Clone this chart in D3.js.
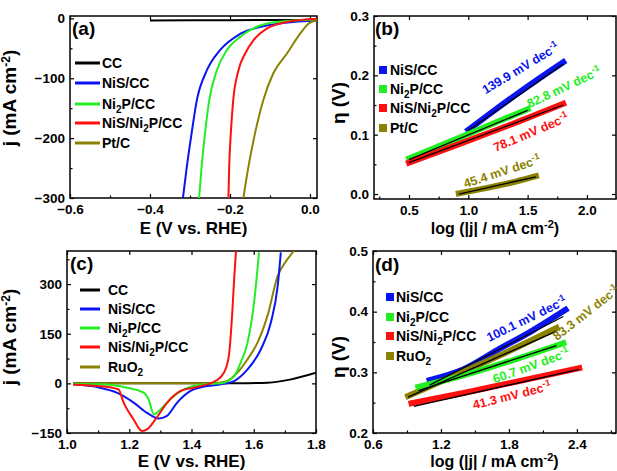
<!DOCTYPE html>
<html>
<head>
<meta charset="utf-8">
<script src="https://cdn.jsdelivr.net/npm/d3@7"></script>
<style>
  body { margin: 0; background: #fff; }
  svg text { font-family: "Liberation Sans", Arial, sans-serif; font-weight: bold; fill: #000; }
</style>
</head>
<body>
<svg id="fig" width="617" height="471"></svg>
<script>
// ---- (a) HER polarization curves: [E (V vs RHE), j (mA cm-2)]
var herCC   = [[-0.40,-3.5],[-0.2,-3],[0.0,-2.5],[0.02,-2.3]];
var herNiS  = [[-0.318,-302],[-0.308,-248],[-0.296,-192],[-0.283,-137],[-0.258,-87],[-0.225,-53],[-0.175,-26],[-0.108,-12],[-0.042,-6],[0.017,-4]];
var herNi2P = [[-0.2775,-302],[-0.271,-248],[-0.2625,-192],[-0.252,-137],[-0.233,-87],[-0.208,-53],[-0.175,-31],[-0.133,-14],[-0.083,-6],[0.017,-2]];
var herHet  = [[-0.204,-302],[-0.202,-248],[-0.198,-192],[-0.192,-137],[-0.179,-87],[-0.1625,-59],[-0.142,-37],[-0.108,-17],[-0.058,-6],[0.017,-0.5]];
var herPt   = [[-0.167,-302],[-0.154,-248],[-0.1375,-192],[-0.117,-137],[-0.092,-92],[-0.058,-59],[-0.025,-26],[-0.004,-9],[0.017,-3]];

// ---- (b) HER Tafel plots: [log|j|, eta (V)]
var tafHNiS  = [[1.0,0.108],[1.2,0.138],[1.4,0.167],[1.6,0.195],[1.8,0.222]];
var tafHNi2P = [[0.5,0.060],[1.0,0.101],[1.5,0.143]];
var tafHHet  = [[0.5,0.053],[1.0,0.090],[1.5,0.128],[1.8,0.152]];
var tafHPt   = [[0.92,0.001],[1.2,0.012],[1.4,0.021],[1.57,0.030]];
var fitHNiS  = [[1.0,0.107],[1.8,0.219]];
var fitHNi2P = [[0.5,0.058],[1.5,0.141]];
var fitHHet  = [[0.5,0.053],[1.8,0.150]];
var fitHPt   = [[0.92,0.0],[1.57,0.029]];

// ---- (c) OER polarization curves: [E (V vs RHE), j (mA cm-2)]
var oerCC   = [[1.02,0],[1.3,0],[1.5,0],[1.58,0.5],[1.644,2],[1.72,12],[1.80,32]];
var oerNiS  = [[1.02,-3],[1.106,-13],[1.16,-28],[1.214,-58],[1.257,-89],[1.295,-106],[1.32,-99],[1.354,-58],[1.397,-23],[1.45,-8],[1.494,-3],[1.537,7],[1.58,42],[1.623,103],[1.655,184],[1.677,295],[1.687,396]];
var oerNi2P = [[1.02,-2],[1.1,-3],[1.193,-13],[1.246,-28],[1.262,-48],[1.279,-94],[1.30,-79],[1.332,-48],[1.376,-18],[1.44,-3],[1.494,0],[1.537,22],[1.558,63],[1.58,123],[1.601,244],[1.617,396]];
var oerHet  = [[1.02,-4],[1.10,-8],[1.165,-18],[1.182,-58],[1.214,-109],[1.241,-144],[1.257,-139],[1.284,-109],[1.322,-58],[1.365,-23],[1.407,-13],[1.45,-3],[1.477,7],[1.504,32],[1.52,83],[1.531,214],[1.537,315],[1.543,401]];
var oerRuO2 = [[1.02,0],[1.2,0],[1.4,0],[1.48,1],[1.515,7],[1.547,32],[1.58,73],[1.612,123],[1.644,204],[1.677,325],[1.709,376],[1.73,401]];

// ---- (d) OER Tafel plots: [log|j|, eta (V)]
var tafONiS  = [[1.1,0.287],[1.4,0.305],[1.7,0.337],[2.0,0.368],[2.3,0.403]];
var tafONi2P = [[1.0,0.276],[1.4,0.295],[1.8,0.318],[2.28,0.348]];
var tafOHet  = [[0.94,0.249],[1.4,0.266],[1.9,0.286],[2.42,0.307]];
var tafORuO2 = [[0.91,0.261],[1.3,0.293],[1.8,0.335],[2.22,0.373]];
var fitONiS  = [[1.1,0.279],[2.28,0.392]];
var fitONi2P = [[1.0,0.270],[2.22,0.344]];
var fitOHet  = [[0.96,0.244],[2.42,0.305]];
var fitORuO2 = [[0.91,0.259],[2.22,0.368]];

// legend names: array of [text, shift] pieces (0 normal, 1 superscript, -1 subscript)
var nameCC   = [["CC",0]];
var nameNiS  = [["NiS/CC",0]];
var nameNi2P = [["Ni",0],["2",-1],["P/CC",0]];
var nameHet  = [["NiS/Ni",0],["2",-1],["P/CC",0]];
var namePt   = [["Pt/C",0]];
var nameRuO2 = [["RuO",0],["2",-1]];

// Tafel slope labels: [text, log|j|, eta, angle]
var slopesH = [["139.9",1.44,0.212,-31],["82.8",1.806,0.180,-25],["78.1",1.528,0.104,-23],["45.4",1.284,0.038,-18]];
var slopesO = [["100.1",1.955,0.388,-26],["83.3",2.48,0.398,-38],["60.7",1.995,0.311,-20],["41.3",1.827,0.262,-14]];

var cBlack = "#000000", cBlue = "#0a14f0", cGreen = "#22ee22", cRed = "#ff1010", cOlive = "#8a8200";

var svg = d3.select("#fig");

function rich(t, parts, small) {
  var shift = 0;
  parts.forEach(function(p) {
    var target = p[1] == 1 ? -6 : (p[1] == -1 ? 4 : 0);
    var ts = t.append("tspan").text(p[0]).attr("dy", target - shift);
    if (p[1] != 0) ts.style("font-size", small + "px");
    shift = target;
  });
}

function panel(o) {
  var g = svg.append("g");
  var x = d3.scaleLinear().domain(o.xd).range([o.l, o.r]);
  var y = d3.scaleLinear().domain(o.yd).range([o.b, o.t]);
  var id = "clip" + o.name;
  svg.append("clipPath").attr("id", id).append("rect")
    .attr("x", o.l).attr("y", o.t).attr("width", o.r - o.l).attr("height", o.b - o.t);

  // ticks (inside) on all four sides
  g.append("g").attr("transform", "translate(0," + o.b + ")")
    .call(d3.axisBottom(x).tickValues(o.xt).tickSize(-4).tickPadding(6).tickFormat(d3.format(".1f")));
  g.append("g").attr("transform", "translate(0," + o.b + ")")
    .call(d3.axisBottom(x).tickValues(o.xm).tickSize(-2.5).tickFormat(""));
  g.append("g").attr("transform", "translate(0," + o.t + ")")
    .call(d3.axisTop(x).tickValues(o.xt).tickSize(-4).tickFormat(""));
  g.append("g").attr("transform", "translate(" + o.l + ",0)")
    .call(d3.axisLeft(y).tickValues(o.yt).tickSize(-4).tickPadding(5).tickFormat(o.yf));
  g.append("g").attr("transform", "translate(" + o.l + ",0)")
    .call(d3.axisLeft(y).tickValues(o.ym).tickSize(-2.5).tickFormat(""));
  g.append("g").attr("transform", "translate(" + o.r + ",0)")
    .call(d3.axisRight(y).tickValues(o.yt).tickSize(-4).tickFormat(""));
  g.selectAll(".domain").remove();
  g.selectAll(".tick line").attr("stroke", "#000").attr("stroke-width", 1.2);
  g.selectAll(".tick text").style("font-size", "13.5px").attr("fill", "#000");

  g.append("rect").attr("x", o.l).attr("y", o.t).attr("width", o.r - o.l).attr("height", o.b - o.t)
    .attr("fill", "none").attr("stroke", "#000").attr("stroke-width", 1.5);

  var plot = g.append("g").attr("clip-path", "url(#" + id + ")");
  return { g: g, x: x, y: y, plot: plot };
}

function lineGen(p, curve) {
  return d3.line().x(function(d) { return p.x(d[0]); }).y(function(d) { return p.y(d[1]); }).curve(curve);
}

function titles(p, o) {
  var xt = svg.append("text").attr("x", (o.l + o.r) / 2).attr("y", o.xty)
    .attr("text-anchor", "middle").style("font-size", o.xfs + "px");
  rich(xt, o.xtitle, 11);
  var yt = svg.append("text").attr("transform", "translate(" + o.ytx + "," + o.yty + ") rotate(-90)")
    .attr("text-anchor", "middle").style("font-size", "19px");
  rich(yt, o.ytitle, 12);
  svg.append("text").attr("x", o.lab[1]).attr("y", o.lab[2]).style("font-size", "19px").text(o.lab[0]);
}

function lineLegend(items, x0, x1, tx, ys) {
  items.forEach(function(it, i) {
    svg.append("line").attr("x1", x0).attr("x2", x1).attr("y1", ys[i]).attr("y2", ys[i])
      .attr("stroke", it[1]).attr("stroke-width", 3);
    var t = svg.append("text").attr("x", tx).attr("y", ys[i] + 5).style("font-size", "14px");
    rich(t, it[0], 10);
  });
}

function boxLegend(items, x0, tx, ys) {
  items.forEach(function(it, i) {
    svg.append("rect").attr("x", x0).attr("y", ys[i] - 4).attr("width", 8).attr("height", 8).attr("fill", it[1]);
    var t = svg.append("text").attr("x", tx).attr("y", ys[i] + 5).style("font-size", "14px");
    rich(t, it[0], 10);
  });
}

function slopeLabels(p, list, cols) {
  list.forEach(function(s, i) {
    var t = svg.append("text").attr("text-anchor", "middle").style("font-size", "12.5px")
      .attr("transform", "translate(" + p.x(s[1]) + "," + p.y(s[2]) + ") rotate(" + s[3] + ")");
    t.append("tspan").text(s[0] + " mV dec").attr("dy", "0.35em").attr("fill", cols[i]);
    t.append("tspan").text("-1").attr("dy", -5).style("font-size", "9px").attr("fill", cols[i]);
  });
}

var titleE = [["E (V vs. RHE)",0]];
var titleJ = [["j (mA cm",0],["-2",1],[")",0]];
var titleLog = [["log (|j| / mA cm",0],["-2",1],[")",0]];
var titleEta = [["\u03b7 (V)",0]];

// ---------- (a)
var oa = { name: "a", l: 70, r: 317, t: 16, b: 198, xd: [-0.6, 0.0175], yd: [-300, 4],
  xt: [-0.6, -0.4, -0.2, 0.0], xm: [-0.5, -0.3, -0.1], yt: [0, -100, -200, -300], ym: [-50, -150, -250],
  yf: d3.format("d"), xty: 234, xfs: 17, ytx: 16, yty: 98, xtitle: titleE, ytitle: titleJ, lab: ["(a)", 72, 35] };
var pa = panel(oa);
titles(pa, oa);
[[herCC, cBlack], [herNiS, cBlue], [herNi2P, cGreen], [herHet, cRed], [herPt, cOlive]].forEach(function(s) {
  pa.plot.append("path").attr("d", lineGen(pa, d3.curveMonotoneX)(s[0]))
    .attr("fill", "none").attr("stroke", s[1]).attr("stroke-width", 2);
});
lineLegend([[nameCC, cBlack], [nameNiS, cBlue], [nameNi2P, cGreen], [nameHet, cRed], [namePt, cOlive]],
  75, 100, 102, [63, 83, 104, 123, 143]);

// ---------- (b)
var ob = { name: "b", l: 374, r: 616, t: 16, b: 199, xd: [0.205, 2.245], yd: [-0.0084, 0.3],
  xt: [0.5, 1.0, 1.5, 2.0], xm: [0.25, 0.75, 1.25, 1.75, 2.25], yt: [0.0, 0.1, 0.2, 0.3], ym: [0.05, 0.15, 0.25],
  yf: d3.format(".1f"), xty: 234, xfs: 16, ytx: 345, yty: 103, xtitle: titleLog, ytitle: titleEta, lab: ["(b)", 375, 35] };
var pb = panel(ob);
titles(pb, ob);
var hSets = [[tafHNiS, fitHNiS, cBlue], [tafHNi2P, fitHNi2P, cGreen], [tafHHet, fitHHet, cRed], [tafHPt, fitHPt, cOlive]];
hSets.forEach(function(s) {
  pb.plot.append("path").attr("d", lineGen(pb, d3.curveMonotoneX)(s[0]))
    .attr("fill", "none").attr("stroke", s[2]).attr("stroke-width", 6).attr("stroke-linecap", "square");
});
hSets.forEach(function(s) {
  pb.plot.append("path").attr("d", lineGen(pb, d3.curveLinear)(s[1]))
    .attr("fill", "none").attr("stroke", "#000").attr("stroke-width", 1.3);
});
slopeLabels(pb, slopesH, [cBlue, cGreen, cRed, cOlive]);
boxLegend([[nameNiS, cBlue], [nameNi2P, cGreen], [nameHet, cRed], [namePt, cOlive]], 379, 390, [70, 89, 108, 128]);

// ---------- (c)
var oc = { name: "c", l: 67, r: 316, t: 251, b: 433, xd: [1.0, 1.8], yd: [-150, 400],
  xt: [1.0, 1.2, 1.4, 1.6, 1.8], xm: [1.1, 1.3, 1.5, 1.7], yt: [-150, 0, 150, 300], ym: [-75, 75, 225, 375],
  yf: d3.format("d"), xty: 467, xfs: 17, ytx: 16, yty: 337, xtitle: titleE, ytitle: titleJ, lab: ["(c)", 70, 270] };
var pc = panel(oc);
titles(pc, oc);
[[oerCC, cBlack], [oerRuO2, cOlive], [oerNiS, cBlue], [oerNi2P, cGreen], [oerHet, cRed]].forEach(function(s) {
  pc.plot.append("path").attr("d", lineGen(pc, d3.curveMonotoneX)(s[0]))
    .attr("fill", "none").attr("stroke", s[1]).attr("stroke-width", 2);
});
lineLegend([[nameCC, cBlack], [nameNiS, cBlue], [nameNi2P, cGreen], [nameHet, cRed], [nameRuO2, cOlive]],
  80, 100, 108, [290, 309, 328, 347, 367]);

// ---------- (d)
var od = { name: "d", l: 373, r: 616, t: 251, b: 433, xd: [0.6, 2.745], yd: [0.2, 0.5],
  xt: [0.6, 1.2, 1.8, 2.4], xm: [0.9, 1.5, 2.1, 2.7], yt: [0.2, 0.3, 0.4, 0.5], ym: [0.25, 0.35, 0.45],
  yf: d3.format(".1f"), xty: 467, xfs: 16, ytx: 345, yty: 357, xtitle: titleLog, ytitle: titleEta, lab: ["(d)", 375, 271] };
var pd = panel(od);
titles(pd, od);
var oSets = [[tafONiS, fitONiS, cBlue], [tafORuO2, fitORuO2, cOlive], [tafONi2P, fitONi2P, cGreen], [tafOHet, fitOHet, cRed]];
oSets.forEach(function(s) {
  pd.plot.append("path").attr("d", lineGen(pd, d3.curveMonotoneX)(s[0]))
    .attr("fill", "none").attr("stroke", s[2]).attr("stroke-width", 6).attr("stroke-linecap", "square");
});
oSets.forEach(function(s) {
  pd.plot.append("path").attr("d", lineGen(pd, d3.curveLinear)(s[1]))
    .attr("fill", "none").attr("stroke", "#000").attr("stroke-width", 1.3);
});
slopeLabels(pd, slopesO, [cBlue, cOlive, cGreen, cRed]);
boxLegend([[nameNiS, cBlue], [nameNi2P, cGreen], [nameHet, cRed], [nameRuO2, cOlive]], 386, 396, [297, 317, 336, 356]);
</script>
</body>
</html>
